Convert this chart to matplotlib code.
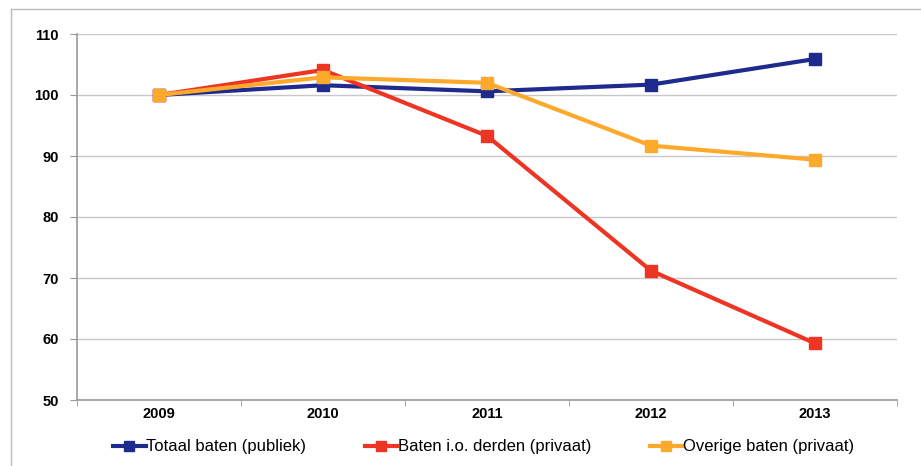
import matplotlib
matplotlib.use("Agg")
import matplotlib.pyplot as plt
from matplotlib.lines import Line2D

years = ["2009", "2010", "2011", "2012", "2013"]
totaal_publiek = [100, 101.6, 100.6, 101.7, 105.9]
derden_privaat = [100, 104.1, 93.3, 71.2, 59.3]
overige_privaat = [100, 102.9, 102.0, 91.7, 89.4]
series_names = ["Totaal baten (publiek)", "Baten i.o. derden (privaat)", "Overige baten (privaat)"]
y_ticks = [50, 60, 70, 80, 90, 100, 110]

colors = ["#1e2a8e", "#ee3524", "#fdaa2c"]

plt.rcParams['font.family'] = ['Liberation Sans', 'DejaVu Sans']

fig = plt.figure(figsize=(9.21, 4.66), dpi=100)
ax = fig.add_axes([77/921, 66/466, 820/921, 366/466])

x = list(range(len(years)))
for vals, c, name in zip([totaal_publiek, derden_privaat, overige_privaat], colors, series_names):
    ax.plot(x, vals, color=c, lw=3, marker='s', ms=8, mec=c, mfc=c, label=name, zorder=3)
ax.set_xlim(-0.5, len(years) - 0.5)
ax.set_ylim(50, 110)
ax.set_yticks(y_ticks)
ax.set_yticklabels([str(t) for t in y_ticks], fontsize=10.5, fontweight='bold')
ax.set_xticks(x)
ax.set_xticklabels(years, fontsize=10.5, fontweight='bold')
ax.set_xticks([i + 0.5 for i in x[:-1]] + [-0.5, len(years) - 0.5], minor=True)
ax.tick_params(axis='x', which='major', length=0, pad=5)
ax.tick_params(axis='x', which='minor', length=4, color='#999999', direction='out')
ax.tick_params(axis='y', length=5, color='#999999', pad=8)
ax.grid(axis='y', color='#c8c8c8', lw=1)
ax.set_axisbelow(True)
for s in ['top', 'right']:
    ax.spines[s].set_visible(False)
for s in ['left', 'bottom']:
    ax.spines[s].set_color('#999999')
    ax.spines[s].set_linewidth(1.2)

handles = [Line2D([0], [0], color=c, lw=3, marker='s', ms=7, mec=c, mfc=c) for c in colors]
fig.legend(handles, series_names, loc='center left', bbox_to_anchor=(113/921, 19/466), ncol=3,
           frameon=False, fontsize=12, handlelength=1.95, handletextpad=0.05, columnspacing=3.5,
           borderpad=0, borderaxespad=0)

# outer frame lines (chart border)
fig.add_artist(Line2D([11/921, 11/921], [0, 1 - 9/466], transform=fig.transFigure, color='#bbbbbb', lw=1))
fig.add_artist(Line2D([11/921, 1], [1 - 9/466, 1 - 9/466], transform=fig.transFigure, color='#bbbbbb', lw=1))

fig.savefig("out.png", dpi=100)
